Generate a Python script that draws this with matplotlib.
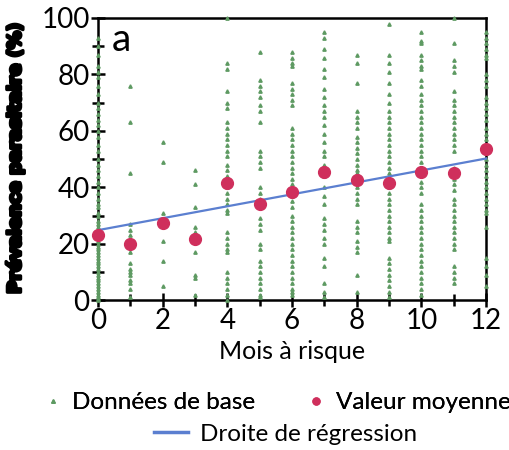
import numpy as np
import matplotlib.pyplot as plt
import matplotlib.patheffects as pe
from matplotlib.lines import Line2D
from matplotlib.ticker import MultipleLocator

# raw data per month at risk
m0 = [93, 90, 87, 83, 81, 79, 76, 73, 70, 68, 66, 64, 62, 60, 58, 55, 53, 50, 48, 46,
      44, 42, 40, 38, 36, 34, 33, 31, 30, 28, 27, 26, 25, 24, 23, 22, 21, 20, 19, 18,
      17, 16, 15, 14, 13, 12, 11, 10, 9, 8, 7, 6, 5, 4, 3, 2, 1, 0.5, 0]
m1 = [76, 63, 45, 27, 25, 23, 20, 17, 13, 11, 10, 9, 7, 6, 4, 1]
m2 = [56, 49, 31, 28, 21, 14, 5]
m3 = [46, 41, 33, 26, 24, 22, 17, 9, 8, 2]
m4 = [100, 84, 82, 74, 70, 68, 63, 61, 59, 57, 55, 53, 51, 48, 46, 44, 42, 40, 38, 36,
      34, 32, 31, 24, 22, 20, 18, 17, 10, 8, 6, 4, 2, 0]
m5 = [88, 78, 76, 74, 72, 69, 67, 63, 53, 51, 49, 47, 40, 38, 36, 34, 29, 27, 25, 20,
      18, 14, 12, 10, 8, 6, 4, 2, 1]
m6 = [88, 86, 84, 83, 77, 75, 73, 71, 69, 61, 59, 57, 55, 53, 51, 49, 47, 45, 43, 41,
      39, 37, 35, 33, 30, 28, 26, 24, 22, 20, 18, 16, 14, 12, 10, 8, 6, 4, 3, 2]
m7 = [95, 93, 89, 86, 82, 79, 75, 72, 69, 67, 65, 62, 59, 56, 53, 51, 48, 46, 44, 40,
      37, 34, 29, 27, 25, 22, 20, 15, 12, 6, 3, 1]
m8 = [87, 84, 77, 67, 65, 63, 61, 58, 56, 54, 52, 50, 48, 46, 45, 40, 38, 36, 34, 28,
      26, 24, 21, 19, 17, 9, 3]
m9 = [98, 87, 84, 81, 77, 73, 70, 67, 65, 63, 61, 59, 57, 55, 53, 51, 49, 47, 45, 42,
      40, 38, 36, 34, 32, 30, 28, 26, 24, 22, 21, 15, 13, 11, 9, 7, 5, 3, 1]
m10 = [95, 92, 91, 87, 85, 83, 82, 78, 76, 73, 71, 69, 67, 65, 63, 61, 59, 57, 55, 53,
       51, 49, 47, 45, 42, 40, 38, 34, 32, 30, 28, 26, 24, 22, 20, 18, 16, 14, 12, 10,
       8, 6, 4, 2]
m11 = [100, 91, 85, 83, 81, 74, 71, 69, 67, 65, 63, 61, 59, 57, 55, 53, 47, 45, 43, 41,
       39, 36, 34, 32, 30, 28, 26, 24, 22, 20, 18, 12, 10, 8, 6]
m12 = [95, 93, 91, 89, 87, 86, 80, 78, 76, 72, 70, 68, 66, 64, 61, 59, 57, 54, 52, 50,
       48, 46, 44, 42, 40, 38, 36, 34, 32, 31, 26, 15, 12, 9, 5]
raw = [m0, m1, m2, m3, m4, m5, m6, m7, m8, m9, m10, m11, m12]

months = list(range(13))
means = [23, 20, 27.5, 21.5, 41.5, 34, 38.5, 45.5, 42.5, 41.5, 45.5, 45, 53.5]
reg_x = [0, 12]
reg_y = [24.8, 50.2]

green = "#5e9a62"
red = "#cf2f5c"
blue = "#5b7fd0"
font = ["Lato", "DejaVu Sans"]
plt.rcParams["font.family"] = font

fig = plt.figure(figsize=(5.1, 4.5), dpi=100)
ax = fig.add_axes([0.192, 0.333, 0.761, 0.627])

for m, vals in zip(months, raw):
    ax.plot([m] * len(vals), vals, ls="none", marker="^", ms=2.4, color=green,
            mec=green, clip_on=False, zorder=3)
ax.plot(reg_x, reg_y, color=blue, lw=1.6, zorder=4, clip_on=False)
ax.plot(months, means, ls="none", marker="o", ms=8.5, color=red, mec=red,
        clip_on=False, zorder=5)

ax.set_xlim(0, 12)
ax.set_ylim(0, 100)
ax.xaxis.set_major_locator(MultipleLocator(2))
ax.xaxis.set_minor_locator(MultipleLocator(1))
ax.yaxis.set_major_locator(MultipleLocator(20))
ax.yaxis.set_minor_locator(MultipleLocator(10))
ax.tick_params(which="both", direction="inout", width=1.8, color="black")
ax.tick_params(which="major", length=10, labelsize=20, pad=1)
ax.tick_params(which="minor", length=8)
for s in ax.spines.values():
    s.set_linewidth(1.8)

ax.text(0.035, 0.985, "a", transform=ax.transAxes, fontsize=28, va="top",
        ha="left")
ax.set_xlabel("Mois à risque", fontsize=18, labelpad=4)
yl = ax.set_ylabel("Prévalence parasitaire (%)", fontsize=13, fontweight="heavy",
                   family="DejaVu Sans", labelpad=12)
yl.set_path_effects([pe.withStroke(linewidth=2.4, foreground="black")])

h1 = Line2D([], [], ls="none", marker="^", ms=2.5, color=green)
h2 = Line2D([], [], ls="none", marker="o", ms=5, color=red)
h3 = Line2D([], [], color=blue, lw=2.5)
leg1 = fig.legend([h1, h2], ["Données de base", "Valeur moyenne"], ncol=2,
                  loc="center", bbox_to_anchor=(0.545, 0.105), frameon=False,
                  prop={"size": 17.5}, handlelength=0.6, handletextpad=0.5,
                  columnspacing=2.2, borderaxespad=0)
fig.legend([h3], ["Droite de régression"], loc="center",
           bbox_to_anchor=(0.56, 0.035), frameon=False, prop={"size": 17.5},
           handlelength=1.4, handletextpad=0.5, borderaxespad=0)
fig.add_artist(leg1)

fig.savefig("out.png", dpi=100)
